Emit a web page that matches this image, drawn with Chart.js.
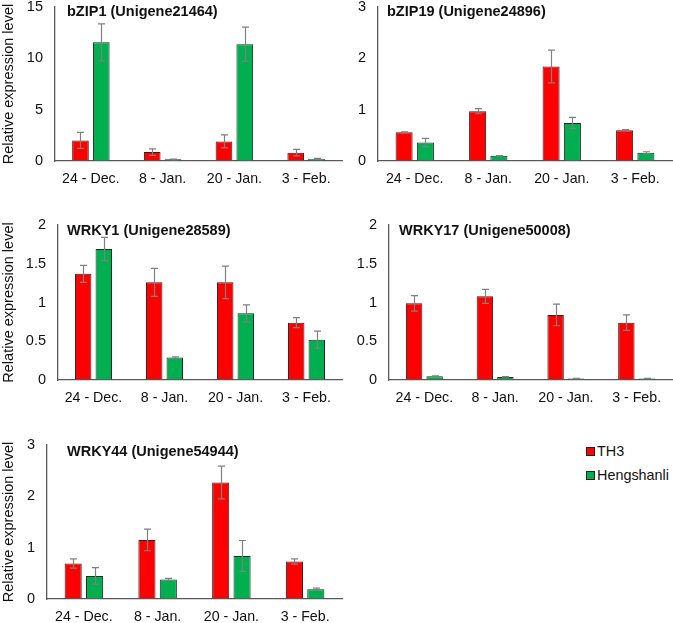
<!DOCTYPE html>
<html><head><meta charset="utf-8">
<script src="https://cdn.jsdelivr.net/npm/chart.js@4/dist/chart.umd.min.js"></script>
<style>
html,body{margin:0;padding:0;background:#fff;overflow:hidden;}
body{width:673px;height:623px;position:relative;font-family:'Liberation Sans',Arial,sans-serif;}
canvas{position:absolute;}
.leg{position:absolute;font-size:14.4px;color:#111;line-height:16px;white-space:nowrap;}
.sw{position:absolute;width:7px;height:7px;border:1px solid #222;box-sizing:content-box;}
</style></head><body>
<canvas id="c1"></canvas><canvas id="c2"></canvas><canvas id="c3"></canvas><canvas id="c4"></canvas><canvas id="c5"></canvas>
<div class="sw" style="left:586px;top:447px;background:#ff0000"></div><div class="leg" style="left:597px;top:443px">TH3</div>
<div class="sw" style="left:586px;top:471px;background:#00b050"></div><div class="leg" style="left:597px;top:467px">Hengshanli</div>
<script>
const categories = ['24 - Dec.', '8 - Jan.', '20 - Jan.', '3 - Feb.'];
const seriesNames = ['TH3', 'Hengshanli'];
const geneTitles = ['bZIP1 (Unigene21464)', 'bZIP19 (Unigene24896)', 'WRKY1 (Unigene28589)', 'WRKY17 (Unigene50008)', 'WRKY44 (Unigene54944)'];
const yAxisTitle = 'Relative expression level';
const yMax = [15, 3, 2, 2, 3];
const yStep = [5, 1, 0.5, 0.5, 1];

const bzip1TH3 = [2.0, 0.87, 1.91, 0.81];
const bzip1TH3Err = [0.78, 0.32, 0.63, 0.32];
const bzip1Heng = [11.56, 0.16, 11.37, 0.23];
const bzip1HengErr = [1.8, 0.02, 1.67, 0.04];

const bzip19TH3 = [0.56, 0.97, 1.84, 0.60];
const bzip19TH3Err = [0.01, 0.05, 0.32, 0.01];
const bzip19Heng = [0.36, 0.10, 0.74, 0.16];
const bzip19HengErr = [0.08, 0.005, 0.11, 0.02];

const wrky1TH3 = [1.37, 1.26, 1.26, 0.74];
const wrky1TH3Err = [0.11, 0.18, 0.21, 0.065];
const wrky1Heng = [1.69, 0.29, 0.86, 0.52];
const wrky1HengErr = [0.15, 0.01, 0.11, 0.11];

const wrky17TH3 = [0.99, 1.08, 0.84, 0.74];
const wrky17TH3Err = [0.10, 0.09, 0.14, 0.10];
const wrky17Heng = [0.05, 0.04, 0.02, 0.02];
const wrky17HengErr = [0.003, 0.003, 0.002, 0.002];

const wrky44TH3 = [0.69, 1.15, 2.27, 0.73];
const wrky44TH3Err = [0.09, 0.21, 0.32, 0.05];
const wrky44Heng = [0.45, 0.38, 0.84, 0.19];
const wrky44HengErr = [0.16, 0.02, 0.30, 0.02];

const panelData = [
  [bzip1TH3, bzip1TH3Err, bzip1Heng, bzip1HengErr],
  [bzip19TH3, bzip19TH3Err, bzip19Heng, bzip19HengErr],
  [wrky1TH3, wrky1TH3Err, wrky1Heng, wrky1HengErr],
  [wrky17TH3, wrky17TH3Err, wrky17Heng, wrky17HengErr],
  [wrky44TH3, wrky44TH3Err, wrky44Heng, wrky44HengErr]
];

// layout (page pixels)
const panels = [
  {id:'c1', axisX:55, topY:7, zeroY:161, right:342, yTitle:true, tdx:12, tdy:5},
  {id:'c2', axisX:378, topY:7, zeroY:161, right:672, yTitle:false, tdx:9, tdy:5},
  {id:'c3', axisX:58, topY:225, zeroY:380, right:342, yTitle:true, tdx:9, tdy:6},
  {id:'c4', axisX:389, topY:225, zeroY:380, right:672, yTitle:false, tdx:10, tdy:6},
  {id:'c5', axisX:47, topY:445, zeroY:599, right:342, yTitle:true, tdx:20, tdy:7}
];
const colors = ['#ff0000', '#00b050'];
const FONT = "'Liberation Sans', Arial, sans-serif";
const FS = 14.5, FT = 14.2;
const PADTOP = 24, PADRIGHT = 10;
Chart.defaults.font.family = FONT;
Chart.defaults.font.size = FS;
Chart.defaults.color = '#111';

const errorBars = {
  id: 'errorBars',
  afterDatasetsDraw(chart) {
    const ctx = chart.ctx, ys = chart.scales.y;
    ctx.save();
    ctx.strokeStyle = '#808080';
    ctx.lineWidth = 1.2;
    chart.data.datasets.forEach((ds, di) => {
      const meta = chart.getDatasetMeta(di);
      meta.data.forEach((el, i) => {
        const v = ds.data[i], e = ds.err[i];
        const yt = ys.getPixelForValue(v + e), yb = ys.getPixelForValue(Math.max(0, v - e));
        const x = Math.round(el.x) + 0.5;
        ctx.beginPath();
        ctx.moveTo(x, yt); ctx.lineTo(x, yb);
        ctx.moveTo(x - 3.5, yt); ctx.lineTo(x + 3.5, yt);
        ctx.moveTo(x - 3.5, yb); ctx.lineTo(x + 3.5, yb);
        ctx.stroke();
      });
    });
    ctx.restore();
  }
};
const geneTitle = {
  id: 'geneTitle',
  afterDraw(chart, args, opts) {
    const ctx = chart.ctx, a = chart.chartArea;
    ctx.save();
    ctx.font = 'bold ' + FS + 'px ' + FONT;
    ctx.fillStyle = '#111';
    ctx.textBaseline = 'middle';
    ctx.textAlign = 'left';
    ctx.fillText(opts.text, a.left + opts.dx, a.top + opts.dy);
    ctx.restore();
  }
};

panels.forEach((p, k) => {
  const cv = document.getElementById(p.id);
  const left = p.yTitle ? 0 : p.axisX - 50;
  const top = p.topY - PADTOP;
  const w = p.right - left + PADRIGHT;
  const h = p.zeroY - top + 40;
  cv.width = w; cv.height = h;
  cv.style.left = left + 'px'; cv.style.top = top + 'px';
  cv.style.width = w + 'px'; cv.style.height = h + 'px';
  const yW = p.axisX - left;
  const d = panelData[k];
  new Chart(cv, {
    type: 'bar',
    data: {
      labels: categories,
      datasets: [
        {label: seriesNames[0], data: d[0], err: d[1], backgroundColor: colors[0], borderColor: '#262626', borderWidth: 1, categoryPercentage: 0.58, barPercentage: 0.8},
        {label: seriesNames[1], data: d[2], err: d[3], backgroundColor: colors[1], borderColor: '#262626', borderWidth: 1, categoryPercentage: 0.58, barPercentage: 0.8}
      ]
    },
    options: {
      responsive: false, animation: false, devicePixelRatio: 1,
      layout: {padding: {top: PADTOP, left: 0, right: PADRIGHT, bottom: 0}},
      plugins: {legend: {display: false}, tooltip: {enabled: false},
        geneTitle: {text: geneTitles[k], dx: p.tdx, dy: p.tdy}},
      scales: {
        x: {
          grid: {display: true, drawOnChartArea: false, drawTicks: false},
          border: {display: true, color: '#595959', width: 1.3},
          ticks: {padding: 10, maxRotation: 0, autoSkip: false, color: '#111', font: {size: FT}},
          afterFit(s) { s.height = 40; }
        },
        y: {
          min: 0, max: yMax[k],
          grid: {display: true, drawOnChartArea: false, drawTicks: false},
          border: {display: true, color: '#595959', width: 1.3},
          ticks: {stepSize: yStep[k], padding: 12, color: '#111', font: {size: FS},
                  callback: (v) => String(Math.round(v * 100) / 100)},
          title: {display: p.yTitle, text: yAxisTitle, color: '#111', font: {size: FS}, padding: 0},
          afterFit(s) { s.width = yW; }
        }
      }
    },
    plugins: [errorBars, geneTitle]
  });
});
</script>
</body></html>
